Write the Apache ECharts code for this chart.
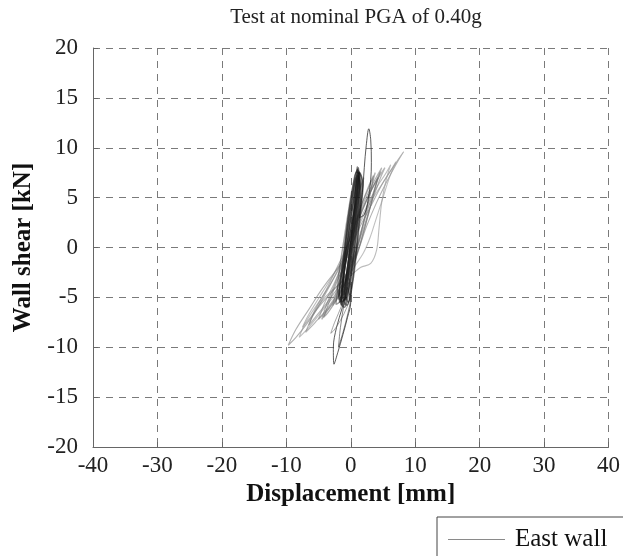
<!DOCTYPE html>
<html>
<head>
<meta charset="utf-8">
<script src="https://cdn.jsdelivr.net/npm/echarts@6/dist/echarts.min.js"></script>
<style>
  html, body { margin: 0; padding: 0; background: #fff; }
  #chart { width: 623px; height: 556px; }
</style>
</head>
<body>
<div id="chart"></div>
<script>
// Hysteresis record of the east wall: displacement [mm] vs wall shear [kN]
const titleText = 'Test at nominal PGA of 0.40g';
const seriesName = 'East wall';
const xTicks = [-40, -30, -20, -10, 0, 10, 20, 30, 40];
const yTicks = [-20, -15, -10, -5, 0, 5, 10, 15, 20];

// Wide, low-stiffness cycles (light grey)
const cycleWideA = [[-0.5,-1],[1,1.5],[3,4],[5,6.5],[6.5,8],[8.2,9.6],[7,8.3],[5.5,6.5],[4,4.5],[2.5,2.2],[1,-0.5],[-1,-3],[-3,-4.5],[-5,-6],[-7,-7.8],[-8.5,-9],[-9.7,-9.8],[-8.5,-8.2],[-6.5,-6.2],[-4.5,-4.2],[-2.5,-2.5],[-0.5,-1]];
const cycleWideB = [[0,0.5],[2,3.5],[4,6],[5.5,7.5],[6.2,8.3],[5.5,6.8],[4.8,4.5],[4.4,2],[4,-0.3],[3.1,-1.6],[1.5,-2],[0,-2.8],[-2,-3.8],[-4,-5],[-6,-6.8],[-7.5,-8],[-6.5,-6.7],[-4.5,-4.6],[-2.5,-2.5],[-1,-1],[0,0.5]];
const cycleWideC = [[0,0],[1.5,2.5],[3,4.5],[4.5,6],[6,7.5],[7,8.6],[6,7],[5,5],[4,3],[3,1],[2,-0.5],[0.5,-2],[-1,-3.5],[-3,-5.2],[-5,-6.8],[-6.5,-8],[-8,-9],[-7,-7.5],[-5,-5.5],[-3,-3.5],[-1.5,-1.8],[0,0]];

// Intermediate cycles (mid grey)
const cycleMidA = [[0,1],[1.5,3.5],[3,5.5],[4.5,7.2],[5.3,8],[4.5,6.8],[3.5,5],[2.5,3],[1.5,1],[0.5,-1],[-1,-3],[-2.5,-4.5],[-4,-5.8],[-5.5,-7],[-6.5,-7.8],[-5.5,-6.2],[-4,-4.5],[-2.5,-2.5],[-1,-0.5],[0,1]];
const cycleMidB = [[0.2,1.5],[1.5,4],[2.8,6],[3.8,7.5],[3.2,6],[2.5,4],[1.8,2],[1,0],[0,-2],[-1.2,-3.8],[-2.5,-5.2],[-3.8,-6.5],[-4.5,-7.2],[-3.8,-5.8],[-2.8,-4.2],[-1.8,-2.5],[-0.8,-0.5],[0.2,1.5]];
const cycleMidC = [[-0.5,-0.5],[1,2.5],[2.5,4.8],[4,6.8],[4.6,7.6],[3.8,6],[3,4],[2.2,2],[1.2,-0.3],[0,-2.5],[-1.5,-4.3],[-3,-5.8],[-5,-7.2],[-4,-5.5],[-2.5,-3.5],[-1.5,-2],[-0.5,-0.5]];
const cycleMidD = [[0.5,2],[2,4.5],[3.5,6.5],[4.8,8],[4,6.5],[3,4.5],[2,2.5],[0.8,0],[-0.5,-2.5],[-2,-4.5],[-3.5,-6],[-5.5,-7.5],[-7,-8.5],[-6,-7],[-4.5,-5.3],[-3,-3.5],[-1.5,-1.5],[0.5,2]];
const cycleMidE = [[-0.8,-1.5],[0.5,1.5],[2,4],[3.2,5.8],[4.2,7],[3.6,5.5],[2.8,3.5],[1.8,1.2],[0.8,-1],[-0.5,-3],[-2,-5],[-3.5,-6.5],[-4.2,-7],[-3.2,-5.2],[-2.2,-3.5],[-0.8,-1.5]];
const cycleMidF = [[-0.3,0],[0.8,2.5],[1.8,4.5],[2.8,6.2],[3.5,7.2],[3.1,5.6],[2.4,3.6],[1.6,1.5],[0.7,-0.8],[-0.4,-2.8],[-1.6,-4.5],[-2.8,-5.8],[-2.2,-4.3],[-1.3,-2.4],[-0.3,0]];

// Stiff, high-force cycles forming the dense core
const cycleCoreA = [[-1.6,-5.5],[-1.3,-3],[-0.9,0],[-0.4,3],[0.2,5.5],[0.9,7.6],[1.4,7.2],[1.3,5],[1,2.5],[0.6,0],[0.2,-2.5],[-0.4,-4.8],[-1.0,-6],[-1.6,-5.5]];
const cycleCoreB = [[-1.2,-3],[-0.4,0],[0.3,3],[0.8,5.5],[1.2,7.2],[1.4,6.5],[1,4],[0.5,1.5],[0,-1],[-0.6,-3.5],[-1,-5],[-1.5,-5.8],[-1.4,-4.5],[-1.2,-3]];
const cycleCoreC = [[-1.5,-3],[-0.8,-0.5],[-0.2,2],[0.4,4.5],[0.9,6.5],[1.2,7.5],[0.9,5],[0.4,2.5],[-0.1,0],[-0.5,-2],[-1,-4],[-1.7,-5.5],[-1.8,-4.5],[-1.5,-3]];
const cycleCoreD = [[-2,-4],[-1,-1],[0,2],[0.8,4.5],[1.5,6],[2,7],[1.6,5],[1,2.5],[0.3,0],[-0.3,-2.5],[-1,-4.5],[-1.8,-5.5],[-2.3,-5.7],[-2,-4]];
const cycleCoreE = [[-1,-2.5],[-0.3,0.5],[0.5,3.5],[1,6],[1.3,7.6],[1.1,5.5],[0.7,3],[0.2,0.5],[-0.3,-2],[-0.6,-4],[-0.9,-5.3],[-1.2,-4.5],[-1,-2.5]];
const cycleCoreF = [[-0.6,-3],[0,-0.5],[0.5,2],[0.9,4.5],[1.1,6.5],[1.0,8.1],[0.8,6],[0.5,3.5],[0,0.5],[-0.5,-2],[-0.9,-3.8],[-1.0,-4.8],[-0.6,-3]];
const cycleCoreG = [[-1.4,-5],[-1.1,-2.5],[-0.7,0.5],[-0.2,3],[0.4,5.5],[1.0,7.8],[1.6,7],[1.5,4.5],[1.1,1.5],[0.6,-1.5],[0.1,-4],[-0.6,-5.8],[-1.4,-5]];
const cycleCoreH = [[-1.8,-4.5],[-1.3,-2],[-0.8,0.5],[-0.2,3],[0.4,5.5],[1,7.2],[1.5,6],[1.2,3.5],[0.8,1],[0.3,-1.5],[-0.3,-4],[-1.1,-5.8],[-1.8,-4.5]];
const cycleCoreI = [[-2.1,-4],[-1.6,-1.5],[-1.0,1],[-0.4,3.5],[0.2,5.8],[0.7,7],[0.9,5.5],[0.6,3],[0.2,0.5],[-0.3,-2],[-0.9,-4.2],[-1.6,-5.3],[-2.1,-4]];
const cycleCoreJ = [[-1,-4.5],[-0.5,-2],[0,0.5],[0.5,3],[1,5.5],[1.4,7.5],[1.9,6.3],[1.6,4],[1.2,1.5],[0.8,-1],[0.3,-3.5],[-0.4,-5.5],[-1,-4.5]];
const cycleCoreK = [[-1.5,-5.5],[-1.1,-3],[-0.6,0],[0,3],[0.5,5],[0.9,6.8],[1.2,8],[1.3,6],[1.0,3.5],[0.5,0.5],[0,-2.5],[-0.7,-5],[-1.5,-5.5]];
const cycleCoreL = [[-1.9,-5.2],[-1.5,-2.8],[-1.1,-0.5],[-0.6,2],[0,4.5],[0.6,6.5],[1.1,7.4],[1.0,5.2],[0.7,2.8],[0.3,0.2],[-0.2,-2.5],[-0.8,-4.8],[-1.9,-5.2]];

// Peak excursions: narrow lobes above and below
const lobeUpper = [[1.3,3],[1.8,5.5],[2.1,8],[2.4,10.2],[2.8,11.9],[3.1,10.8],[3.2,8.5],[3.1,6.8],[2.7,4.8],[2.1,3.3],[1.3,3]];
const lobeLower = [[-0.5,-4],[-1.3,-6],[-2.2,-8],[-2.7,-10],[-2.6,-11.7],[-2.0,-10.5],[-1.2,-8.7],[-0.5,-7],[0,-5.5],[-0.5,-4]];
const lobeLowerB = [[-0.3,-3.5],[-1.4,-5.8],[-2.5,-7.5],[-3.1,-8.6],[-2.6,-8.3],[-1.6,-7.3],[-0.6,-6],[0,-4.5],[-0.3,-3.5]];
const lobeLowerC = [[-0.3,-3],[-1,-5.5],[-1.6,-8],[-1.9,-10],[-1.2,-8.5],[-0.4,-6.5],[0.1,-4.5],[-0.3,-3]];

const curves = [
  { data: cycleWideA, color: 'rgba(150,150,150,0.75)', width: 1.1 },
  { data: cycleWideB, color: 'rgba(165,165,165,0.75)', width: 1.1 },
  { data: cycleWideC, color: 'rgba(150,150,150,0.6)', width: 1.1 },
  { data: cycleMidA, color: 'rgba(120,120,120,0.55)', width: 1.2 },
  { data: cycleMidB, color: 'rgba(110,110,110,0.55)', width: 1.2 },
  { data: cycleMidC, color: 'rgba(130,130,130,0.55)', width: 1.2 },
  { data: cycleMidD, color: 'rgba(120,120,120,0.55)', width: 1.2 },
  { data: cycleMidE, color: 'rgba(100,100,100,0.55)', width: 1.2 },
  { data: cycleMidF, color: 'rgba(110,110,110,0.5)', width: 1.2 },
  { data: lobeUpper, color: 'rgba(40,40,40,0.85)', width: 0.9 },
  { data: lobeLower, color: 'rgba(40,40,40,0.85)', width: 0.9 },
  { data: lobeLowerB, color: 'rgba(90,90,90,0.6)', width: 0.9 },
  { data: lobeLowerC, color: 'rgba(60,60,60,0.7)', width: 0.9 },
  { data: cycleCoreA, color: 'rgba(20,20,20,0.55)', width: 1.5 },
  { data: cycleCoreB, color: 'rgba(20,20,20,0.55)', width: 1.5 },
  { data: cycleCoreC, color: 'rgba(20,20,20,0.55)', width: 1.5 },
  { data: cycleCoreD, color: 'rgba(60,60,60,0.5)', width: 1.4 },
  { data: cycleCoreE, color: 'rgba(20,20,20,0.6)', width: 1.6 },
  { data: cycleCoreF, color: 'rgba(20,20,20,0.6)', width: 1.5 },
  { data: cycleCoreG, color: 'rgba(20,20,20,0.55)', width: 1.5 },
  { data: cycleCoreH, color: 'rgba(30,30,30,0.5)', width: 1.5 },
  { data: cycleCoreI, color: 'rgba(50,50,50,0.45)', width: 1.4 },
  { data: cycleCoreJ, color: 'rgba(20,20,20,0.55)', width: 1.5 },
  { data: cycleCoreK, color: 'rgba(20,20,20,0.6)', width: 1.5 },
  { data: cycleCoreL, color: 'rgba(40,40,40,0.5)', width: 1.5 }
];

const serif = '"Liberation Serif", "DejaVu Serif", serif';
const chart = echarts.init(document.getElementById('chart'), null, { renderer: 'canvas' });

const dashed = { show: true, lineStyle: { color: '#7a7a7a', type: [7, 6], width: 1 } };

chart.setOption({
  animation: false,
  backgroundColor: '#fff',
  title: {
    text: titleText,
    left: 351, top: 2, textAlign: 'center',
    textStyle: { fontFamily: serif, fontSize: 21, fontWeight: 'normal', color: '#222' }
  },
  legend: {
    data: [{ name: seriesName, icon: 'rect', itemStyle: { color: '#8a8a8a' } }],
    left: 437, top: 517,
    padding: [10, 40, 20, 11],
    itemWidth: 57, itemHeight: 1,
    backgroundColor: '#fff',
    borderColor: '#444', borderWidth: 1, borderRadius: 0,
    textStyle: { fontFamily: serif, fontSize: 25, color: '#111', padding: [0, 0, 0, 5] }
  },
  grid: { left: 93, right: 12, top: 48, bottom: 109, containLabel: false },
  xAxis: {
    type: 'value', min: xTicks[0], max: xTicks[xTicks.length - 1], interval: 10,
    name: 'Displacement [mm]', nameLocation: 'middle', nameGap: 33,
    nameTextStyle: { fontFamily: serif, fontSize: 25, fontWeight: 'bold', color: '#111' },
    axisLine: { show: true, onZero: false, lineStyle: { color: '#666', width: 1 } },
    axisTick: { show: true, inside: true, length: 5, lineStyle: { color: '#666' } },
    axisLabel: { fontFamily: serif, fontSize: 23, color: '#222', margin: 7 },
    splitLine: dashed
  },
  yAxis: {
    type: 'value', min: yTicks[0], max: yTicks[yTicks.length - 1], interval: 5,
    name: 'Wall shear [kN]', nameLocation: 'middle', nameGap: 57, nameRotate: 90,
    nameTextStyle: { fontFamily: serif, fontSize: 25, fontWeight: 'bold', color: '#111' },
    axisLine: { show: true, onZero: false, lineStyle: { color: '#666', width: 1 } },
    axisTick: { show: true, inside: true, length: 5, lineStyle: { color: '#666' } },
    axisLabel: { fontFamily: serif, fontSize: 23, color: '#222', margin: 15 },
    splitLine: dashed
  },
  series: curves.map(c => ({
    name: seriesName,
    type: 'line',
    data: c.data,
    smooth: 0.35,
    showSymbol: false,
    symbol: 'none',
    lineStyle: { color: c.color, width: c.width },
    itemStyle: { color: c.color },
    silent: true
  }))
});
</script>
</body>
</html>
